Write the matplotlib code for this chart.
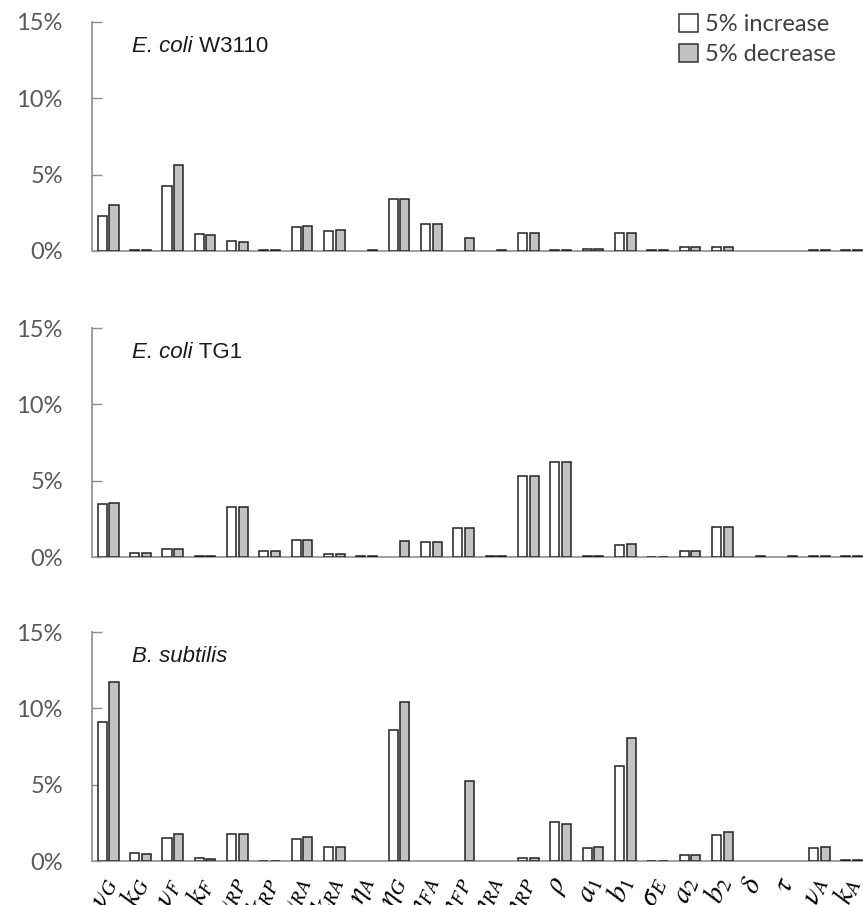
import numpy as np
import matplotlib
matplotlib.use("Agg")
import matplotlib.pyplot as plt
from matplotlib.patches import Patch

plt.rcParams['mathtext.fontset'] = 'stix'

params = [r'$\nu_G$', r'$k_G$', r'$\nu_F$', r'$k_F$', r'$\nu_{RP}$', r'$k_{RP}$',
          r'$\nu_{RA}$', r'$k_{RA}$', r'$\eta_A$', r'$\eta_G$', r'$\eta_{FA}$', r'$\eta_{FP}$',
          r'$\eta_{RA}$', r'$\eta_{RP}$', r'$\rho$', r'$a_1$', r'$b_1$', r'$\sigma_E$',
          r'$a_2$', r'$b_2$', r'$\delta$', r'$\tau$', r'$\nu_A$', r'$k_A$']

# sensitivity (%) for +5% / -5% parameter change
w3110_inc = [2.30, 0.05, 4.23, 1.10, 0.62, 0.05, 1.56, 1.31, 0.00, 3.40, 1.78, 0.00,
             0.00, 1.20, 0.08, 0.12, 1.20, 0.03, 0.26, 0.28, 0.00, 0.00, 0.08, 0.05]
w3110_dec = [3.03, 0.05, 5.60, 1.05, 0.60, 0.05, 1.64, 1.36, 0.05, 3.40, 1.78, 0.88,
             0.05, 1.20, 0.08, 0.12, 1.20, 0.03, 0.24, 0.24, 0.00, 0.00, 0.08, 0.05]

tg1_inc = [3.49, 0.26, 0.55, 0.05, 3.26, 0.37, 1.09, 0.22, 0.05, 0.00, 0.99, 1.93,
           0.05, 5.30, 6.20, 0.08, 0.79, 0.03, 0.39, 1.95, 0.00, 0.00, 0.05, 0.05]
tg1_dec = [3.55, 0.26, 0.55, 0.05, 3.26, 0.37, 1.09, 0.22, 0.05, 1.05, 0.99, 1.93,
           0.05, 5.30, 6.20, 0.08, 0.87, 0.03, 0.39, 1.95, 0.05, 0.05, 0.05, 0.05]

bsub_inc = [9.10, 0.53, 1.51, 0.18, 1.75, 0.03, 1.47, 0.92, 0.00, 8.57, 0.00, 0.00,
            0.00, 0.18, 2.55, 0.83, 6.25, 0.03, 0.37, 1.71, 0.00, 0.00, 0.86, 0.05]
bsub_dec = [11.70, 0.48, 1.78, 0.15, 1.75, 0.03, 1.56, 0.92, 0.00, 10.44, 0.00, 5.22,
            0.00, 0.18, 2.42, 0.92, 8.05, 0.03, 0.37, 1.89, 0.00, 0.00, 0.92, 0.05]

strains = [('E. coli', 'W3110'), ('E. coli', 'TG1'), ('B. subtilis', '')]
series = [(w3110_inc, w3110_dec), (tg1_inc, tg1_dec), (bsub_inc, bsub_dec)]

grey_txt = '#595959'
fig = plt.figure(figsize=(8.63, 9.05), dpi=100)
bottoms = [0.7227, 0.3845, 0.0486]
x = np.arange(len(params))
bw = 0.28

for i, (ax_b, (sp, st), (inc, dec)) in enumerate(zip(bottoms, strains, series)):
    ax = fig.add_axes([0.1066, ax_b, 0.899, 0.253])
    inc = np.array(inc)
    dec = np.array(dec)
    m = inc > 0
    ax.bar(x[m] - 0.18, inc[m], bw, color='white', edgecolor='#222222', linewidth=1.1, zorder=3)
    m = dec > 0
    ax.bar(x[m] + 0.18, dec[m], bw, color='#c2c2c2', edgecolor='#222222', linewidth=1.1, zorder=3)
    ax.set_xlim(-0.5, len(params) - 0.5)
    ax.set_ylim(0, 15)
    ax.set_yticks([0, 5, 10, 15])
    ax.set_yticklabels(['0%', '5%', '10%', '15%'], family='Lato', fontsize=17, color=grey_txt)
    ax.tick_params(axis='y', direction='in', length=7, width=1, color='#8c8c8c', pad=21)
    for s in ['top', 'right']:
        ax.spines[s].set_visible(False)
    ax.spines['left'].set_color('#8c8c8c')
    ax.spines['bottom'].set_color('#a0a0a0')
    ax.spines['left'].set_linewidth(1.2)
    ax.spines['bottom'].set_linewidth(1.4)
    ax.set_xticks(x)
    if i == 2:
        ax.set_xticklabels(params, fontsize=21, rotation=68, ha='right', va='center',
                           rotation_mode='anchor')
        ax.tick_params(axis='x', length=0, pad=12)
    else:
        ax.set_xticklabels([])
        ax.tick_params(axis='x', length=0)
    t1 = ax.text(0.052, 0.87, sp, transform=ax.transAxes, family='Liberation Sans',
                 style='italic', fontsize=16, color='#1a1a1a', va='baseline')
    if st:
        ax.annotate(' ' + st, xy=(1, 0), xycoords=t1, family='Liberation Sans',
                    fontsize=16, color='#1a1a1a', va='bottom', ha='left')
    if i == 0:
        handles = [Patch(facecolor='white', edgecolor='#333333', linewidth=1.1),
                   Patch(facecolor='#c2c2c2', edgecolor='#333333', linewidth=1.1)]
        fig.legend(handles, ['5% increase', '5% decrease'], loc='upper right',
                   bbox_to_anchor=(0.985, 1.0), frameon=False,
                   prop={'family': 'Lato', 'size': 17}, labelcolor='#404040',
                   handlelength=0.8, handleheight=0.8, handletextpad=0.3,
                   labelspacing=0.35, borderaxespad=0.2)

fig.savefig('out.png', dpi=100)
